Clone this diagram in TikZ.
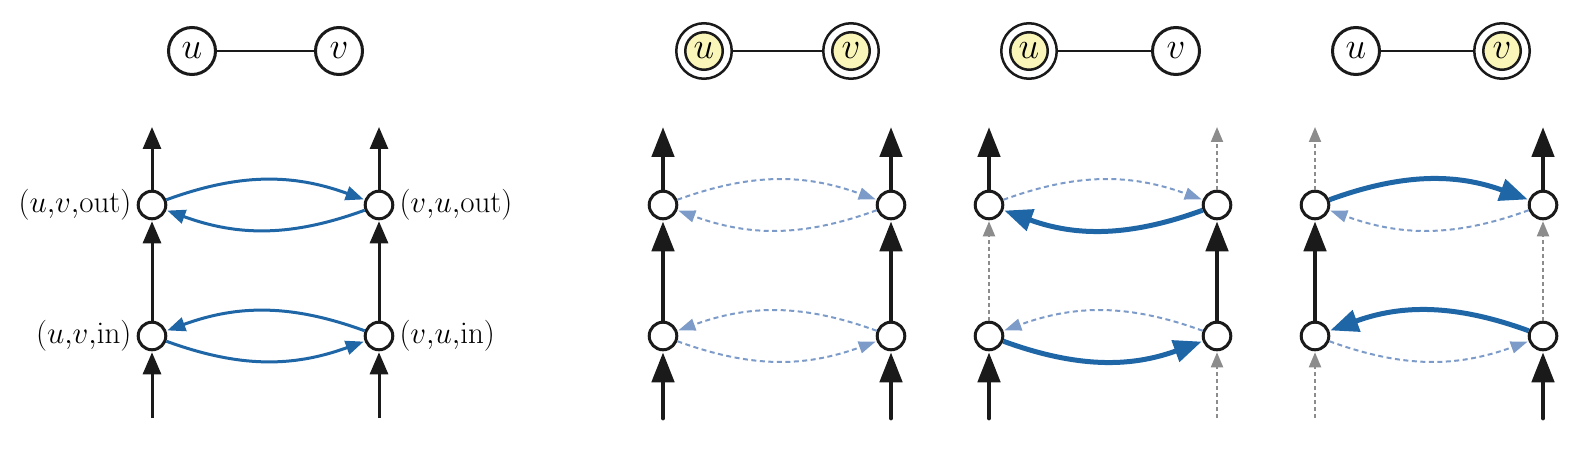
\RequirePackage{fix-cm}
\documentclass[tikz,border=0pt]{standalone}
\usetikzlibrary{arrows.meta}
\definecolor{ink}{RGB}{26,26,26}
\definecolor{flowblue}{RGB}{30,102,166}
\definecolor{paleblue}{RGB}{124,155,200}
\definecolor{offgray}{RGB}{140,140,140}
\definecolor{selyellow}{RGB}{250,246,185}
\tikzset{
 vtx/.style={circle,draw=ink,line width=3pt,minimum size=27.6pt,inner sep=0pt,fill=white},
 gnode/.style={circle,draw=ink,line width=3pt,minimum size=47pt,inner sep=0pt,fill=white,font=\fontsize{37}{40}\selectfont},
 gsel/.style={circle,draw=ink,line width=2.5pt,minimum size=55.5pt,inner sep=0pt,fill=white},
 gin/.style={circle,draw=ink,line width=2.5pt,minimum size=37.5pt,inner sep=0pt,fill=selyellow,font=\fontsize{37}{40}\selectfont},
 gedge/.style={draw=ink,line width=2.5pt},
 lab/.style={font=\fontsize{31}{34}\selectfont,inner sep=1pt},
 flowthin/.style={draw=ink,line width=3pt,shorten >=1pt,-{Triangle[length=22pt,width=18pt]}},
 flowthick/.style={draw=ink,line width=4.8pt,line cap=round,shorten >=1pt,-{Triangle[length=30pt,width=22pt]}},
 flowoff/.style={draw=offgray,line width=2pt,dash pattern=on 4pt off 3pt,shorten >=1pt,-{Triangle[length=15pt,width=12pt]}},
 blueth/.style={draw=flowblue,line width=3pt,shorten >=1pt,-{Triangle[length=18pt,width=14pt]}},
 bluethick/.style={draw=flowblue,line width=5pt,shorten >=1pt,-{Triangle[length=28pt,width=22pt]}},
 bluedash/.style={draw=paleblue,line width=2pt,dash pattern=on 5pt off 3.5pt,shorten >=1pt,-{Triangle[length=17pt,width=12pt]}},
}
\newcommand\mkcols[3]{%
 \node[vtx] (#1-uo) at (#2,251) {};
 \node[vtx] (#1-ui) at (#2,120) {};
 \node[vtx] (#1-vo) at (#3,251) {};
 \node[vtx] (#1-vi) at (#3,120) {};
 \coordinate (#1-ut) at (#2,330);
 \coordinate (#1-ub) at (#2,38);
 \coordinate (#1-vt) at (#3,330);
 \coordinate (#1-vb) at (#3,38);
}
\newcommand\colflow[5]{%
 \draw[#3] (#1-#2o) -- (#1-#2t);
 \draw[#4] (#1-#2i) -- (#1-#2o);
 \draw[#5] (#1-#2b) -- (#1-#2i);
}
\newcommand\arcpairs[5]{%
 \draw[#2] (#1-uo) to[bend left=20] (#1-vo);
 \draw[#3] (#1-vo) to[bend left=20] (#1-uo);
 \draw[#4] (#1-vi) to[bend right=20] (#1-ui);
 \draw[#5] (#1-ui) to[bend right=20] (#1-vi);
}
\begin{document}
\begin{tikzpicture}[x=1pt,y=1pt]
\useasboundingbox (0,0) rectangle (1590,456);
% ---------- panel 1
\node[gnode] (a-gu) at (192,405) {$u$};
\node[gnode] (a-gv) at (339,405) {$v$};
\draw[gedge] (a-gu) -- (a-gv);
\mkcols{a}{152}{379}
\node[lab,anchor=east] (a-luo) at ([xshift=-4pt]a-uo.west) {$(u{,}v{,}\mathrm{out})$};
\node[lab,anchor=west] (a-lvo) at ([xshift=4pt]a-vo.east) {$(v{,}u{,}\mathrm{out})$};
\node[lab,anchor=east] (a-lui) at ([xshift=-4pt]a-ui.west) {$(u{,}v{,}\mathrm{in})$};
\node[lab,anchor=west] (a-lvi) at ([xshift=4pt]a-vi.east) {$(v{,}u{,}\mathrm{in})$};
\colflow{a}{u}{flowthin}{flowthin}{flowthin}
\colflow{a}{v}{flowthin}{flowthin}{flowthin}
\arcpairs{a}{blueth}{blueth}{blueth}{blueth}
% ---------- panel 2
\node[gsel] (b-gu) at (704,405) {};
\node[gin] (b-gui) at (b-gu) {$u$};
\node[gsel] (b-gv) at (851,405) {};
\node[gin] (b-gvi) at (b-gv) {$v$};
\draw[gedge] (b-gu) -- (b-gv);
\mkcols{b}{663}{891}
\colflow{b}{u}{flowthick}{flowthick}{flowthick}
\colflow{b}{v}{flowthick}{flowthick}{flowthick}
\arcpairs{b}{bluedash}{bluedash}{bluedash}{bluedash}
% ---------- panel 3
\node[gsel] (c-gu) at (1029,405) {};
\node[gin] (c-gui) at (c-gu) {$u$};
\node[gnode] (c-gv) at (1176,405) {$v$};
\draw[gedge] (c-gu) -- (c-gv);
\mkcols{c}{989}{1217}
\colflow{c}{u}{flowthick}{flowoff}{flowthick}
\colflow{c}{v}{flowoff}{flowthick}{flowoff}
\arcpairs{c}{bluedash}{bluethick}{bluedash}{bluethick}
% ---------- panel 4
\node[gnode] (d-gu) at (1356,405) {$u$};
\node[gsel] (d-gv) at (1502,405) {};
\node[gin] (d-gvi) at (d-gv) {$v$};
\draw[gedge] (d-gu) -- (d-gv);
\mkcols{d}{1315}{1543}
\colflow{d}{u}{flowoff}{flowthick}{flowoff}
\colflow{d}{v}{flowthick}{flowoff}{flowthick}
\arcpairs{d}{bluethick}{bluedash}{bluethick}{bluedash}
\end{tikzpicture}
\end{document}
